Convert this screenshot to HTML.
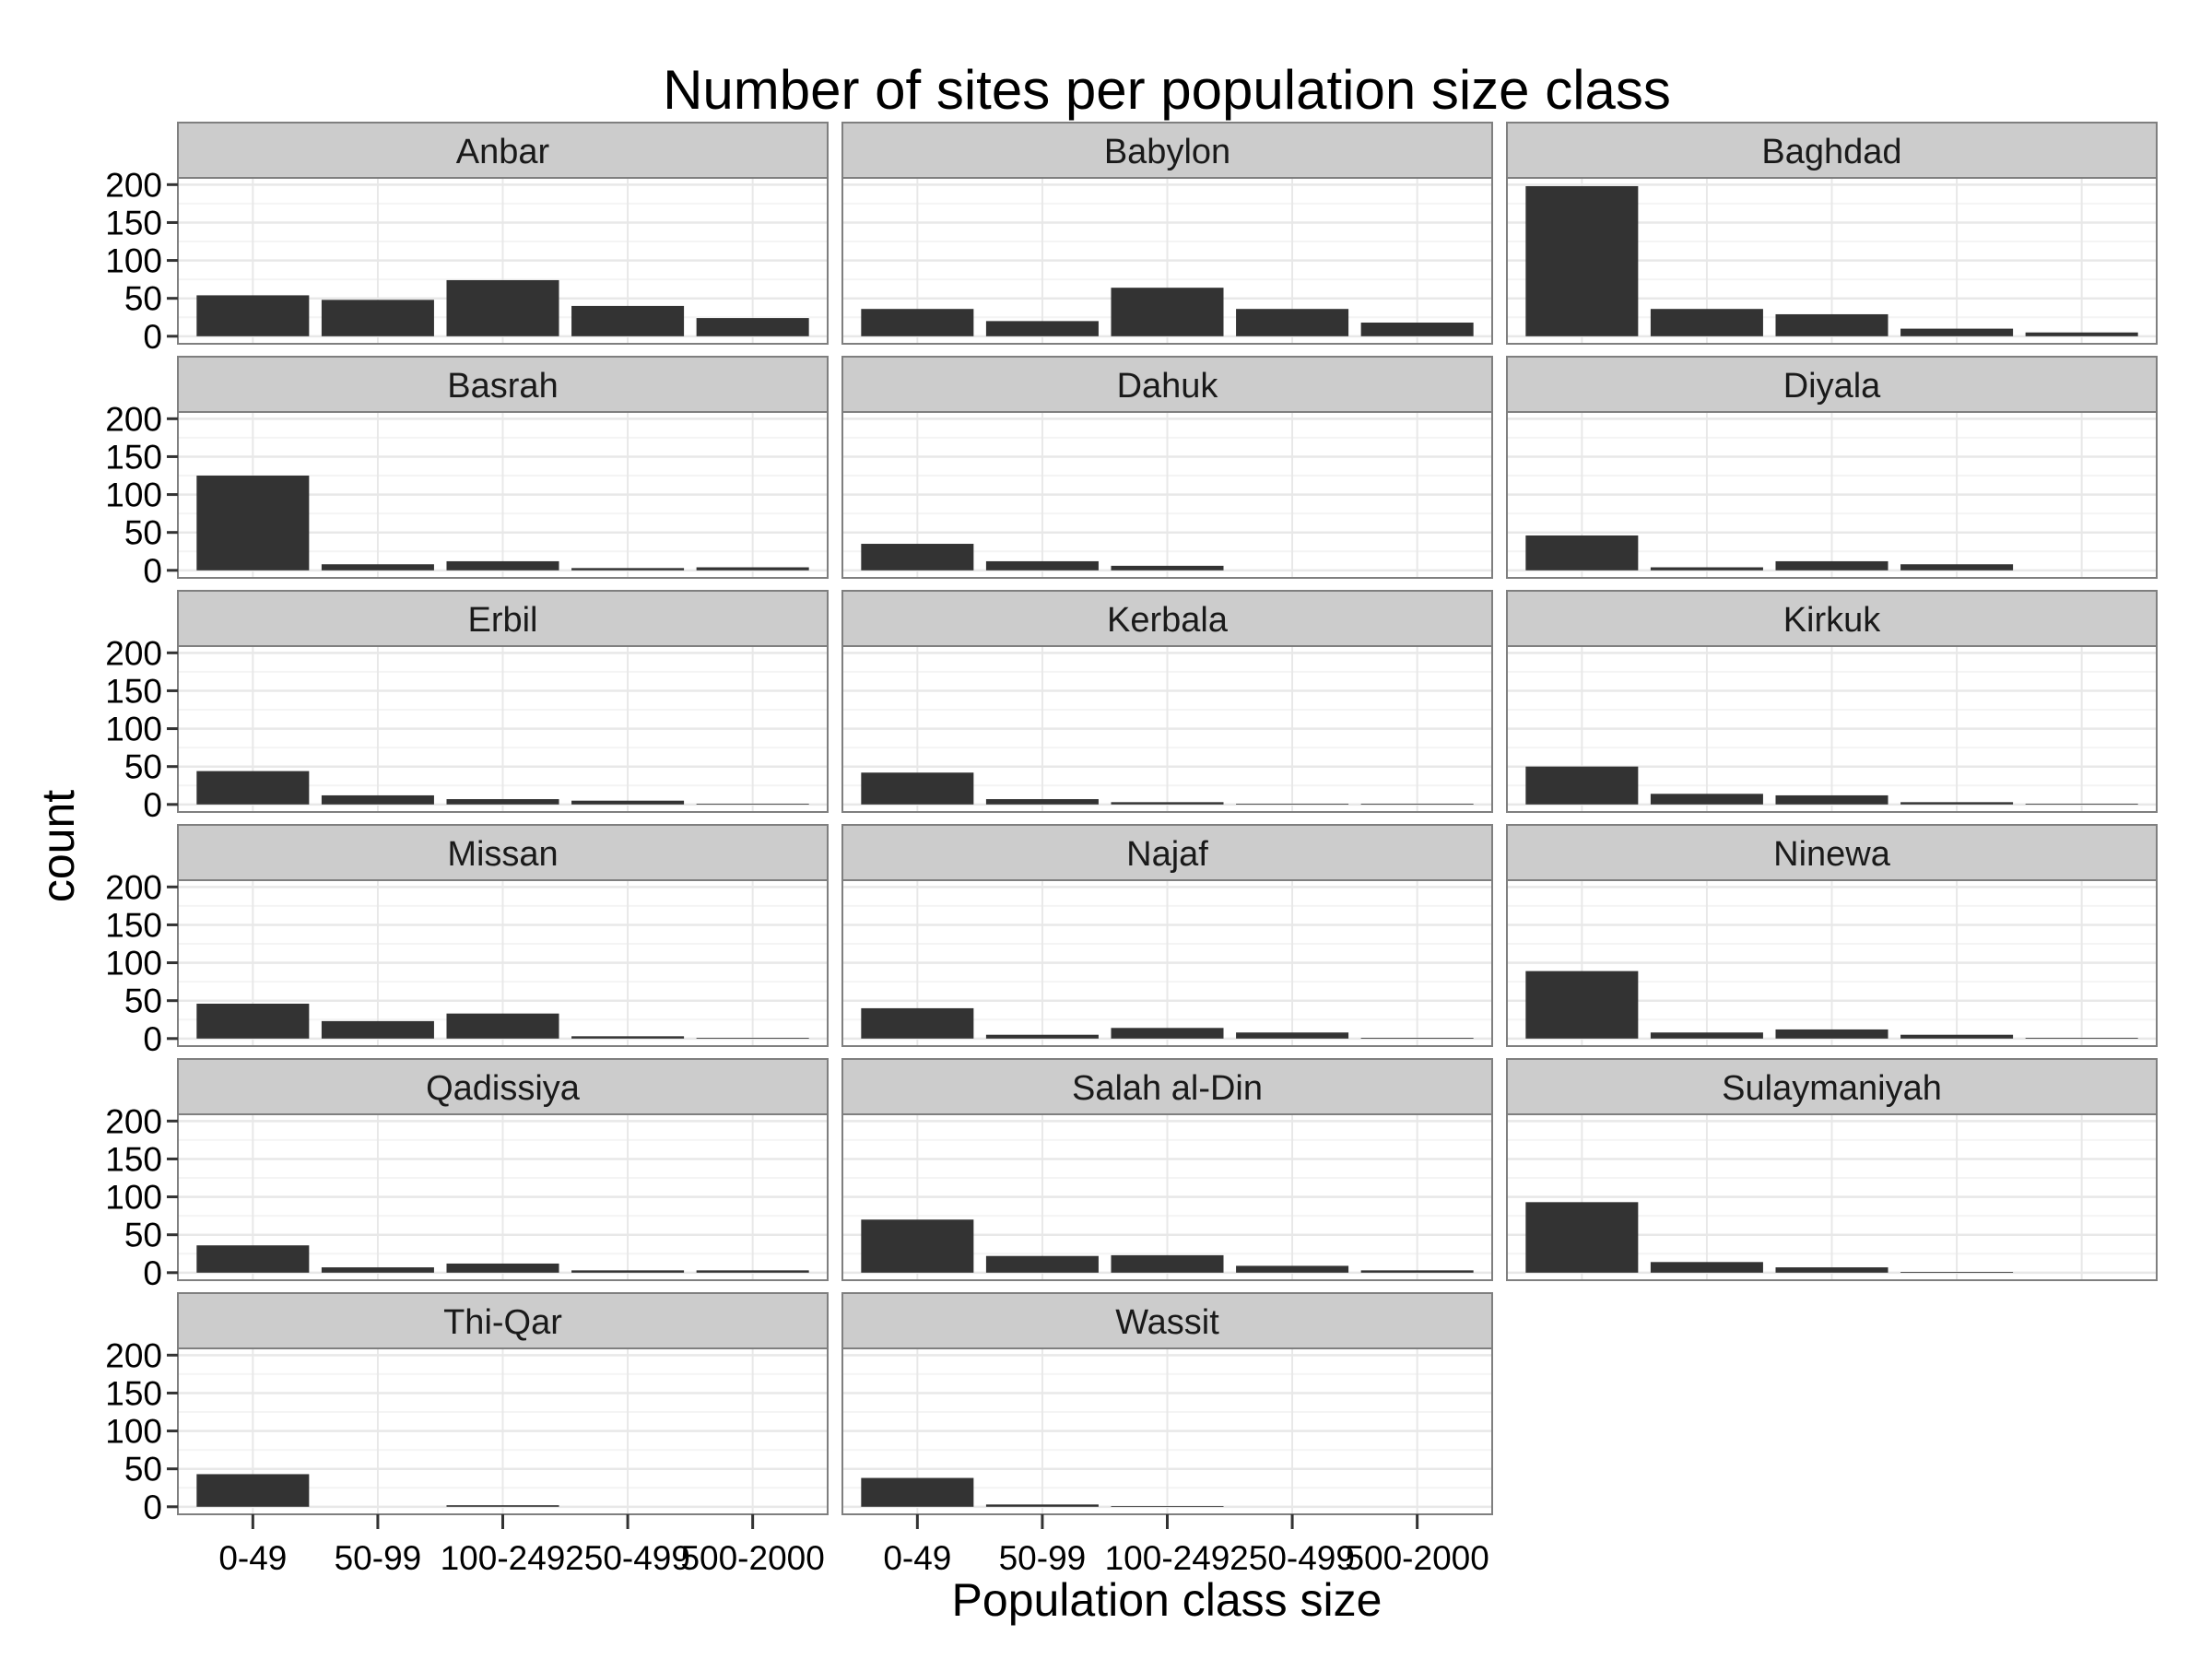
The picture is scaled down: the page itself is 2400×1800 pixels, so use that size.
<!DOCTYPE html>
<html><head><meta charset="utf-8"><style>
html,body{margin:0;padding:0;background:#fff;}
svg{display:block;font-family:"Liberation Sans",Arial,sans-serif;}
</style></head><body>
<svg id="chart" width="2400" height="1800" viewBox="0 0 2400 1800" xmlns="http://www.w3.org/2000/svg">
<text x="1266" y="118" font-size="60" text-anchor="middle" fill="#000">Number of sites per population size class</text>
<text x="1266" y="1753" font-size="50" text-anchor="middle" fill="#000">Population class size</text>
<text transform="translate(80,918) rotate(-90)" font-size="50" text-anchor="middle" fill="#000">count</text>
</svg>
<script>
const categories = ["0-49","50-99","100-249","250-499","500-2000"];
const provinces = ["Anbar","Babylon","Baghdad","Basrah","Dahuk","Diyala","Erbil","Kerbala","Kirkuk","Missan","Najaf","Ninewa","Qadissiya","Salah al-Din","Sulaymaniyah","Thi-Qar","Wassit"];
const anbar = [54,48,74,40,24];
const babylon = [36,20,64,36,18];
const baghdad = [198,36,29,10,5];
const basrah = [125,8,12,3,4];
const dahuk = [35,12,6,0,0];
const diyala = [46,4,12,8,0];
const erbil = [44,12,7,5,1];
const kerbala = [42,7,3,1,1];
const kirkuk = [50,14,12,3,1];
const missan = [46,23,33,3,1];
const najaf = [40,5,14,8,1];
const ninewa = [89,8,12,5,1];
const qadissiya = [36,7,12,3,3];
const salah = [70,22,23,9,3];
const sulaymaniyah = [93,14,7,1,0];
const thiqar = [43,0,2,0,0];
const wassit = [38,3,1,0,0];
const yTicks = [0,50,100,150,200];
const yMinor = [25,75,125,175];

const series = [anbar,babylon,baghdad,basrah,dahuk,diyala,erbil,kerbala,kirkuk,missan,najaf,ninewa,qadissiya,salah,sulaymaniyah,thiqar,wassit];
const NS = "http://www.w3.org/2000/svg";
const svg = document.getElementById("chart");
const colLeft = [193,914,1635], panelW = 705;
const stripTop0 = 133, stripH = 60, panelH = 180, rowPitch = 254;
const yMin = -9.95, yMax = 208.9;
function mk(tag, attrs, parent){
  const e = document.createElementNS(NS, tag);
  for (const k in attrs) e.setAttribute(k, attrs[k]);
  (parent||svg).appendChild(e);
  return e;
}
function xScale(i){ return (i + 1 - 0.4) / 5.2 * panelW; }
const bw = 0.9 / 5.2 * panelW;

provinces.forEach((name, p) => {
  const col = p % 3, row = Math.floor(p / 3);
  const x0 = colLeft[col];
  const sTop = stripTop0 + row * rowPitch;
  const pTop = sTop + stripH;
  const yScale = v => pTop + panelH - (v - yMin) / (yMax - yMin) * panelH;
  const g = mk("g", {});
  
  
  const strip = mk("rect", {x:x0, y:sTop, width:panelW, height:stripH, fill:"#cccccc", stroke:"#7f7f7f", "stroke-width":2}, g);
  
  
  const st = mk("text", {x:x0 + panelW/2, y:sTop + 44, "font-size":38, "text-anchor":"middle", fill:"#1a1a1a"}, g);
  st.textContent = name;
  
  
  const bg = mk("rect", {x:x0, y:pTop, width:panelW, height:panelH, fill:"#fff"}, g);
  
  
  yMinor.forEach(v => {
    const l = mk("line", {x1:x0, x2:x0+panelW, y1:yScale(v), y2:yScale(v), stroke:"#f4f4f4", "stroke-width":2}, g);
    
    
  });
  yTicks.forEach(v => {
    const l = mk("line", {x1:x0, x2:x0+panelW, y1:yScale(v), y2:yScale(v), stroke:"#e8e8e8", "stroke-width":2.5}, g);
    
    
  });
  categories.forEach((c, i) => {
    const l = mk("line", {x1:x0+xScale(i), x2:x0+xScale(i), y1:pTop, y2:pTop+panelH, stroke:"#e8e8e8", "stroke-width":2}, g);
    
    
  });
  series[p].forEach((v, i) => {
    if (v <= 0) return;
    const y1 = yScale(v), y0 = yScale(0);
    const b = mk("rect", {x:x0 + xScale(i) - bw/2, y:y1, width:bw, height:y0 - y1, fill:"#333333"}, g);
    
    
  });
  const border = mk("rect", {x:x0, y:pTop, width:panelW, height:panelH, fill:"none", stroke:"#7f7f7f", "stroke-width":2}, g);
  
  
  if (col === 0) {
    yTicks.forEach(v => {
      const t = mk("line", {x1:x0-12, x2:x0, y1:yScale(v), y2:yScale(v), stroke:"#333", "stroke-width":3}, g);
      
      
      const lb = mk("text", {x:x0-17, y:yScale(v)+13, "font-size":37, "text-anchor":"end", fill:"#000"}, g);
      lb.textContent = v;
      
      
    });
  }
  if (row === 5) {
    categories.forEach((c, i) => {
      const xx = x0 + xScale(i);
      const t = mk("line", {x1:xx, x2:xx, y1:pTop+panelH, y2:pTop+panelH+16, stroke:"#333", "stroke-width":3}, g);
      
      
      const lb = mk("text", {x:xx, y:pTop+panelH+60, "font-size":37, "text-anchor":"middle", fill:"#000"}, g);
      lb.textContent = c;
      
      
    });
  }
});
</script>
</body></html>
